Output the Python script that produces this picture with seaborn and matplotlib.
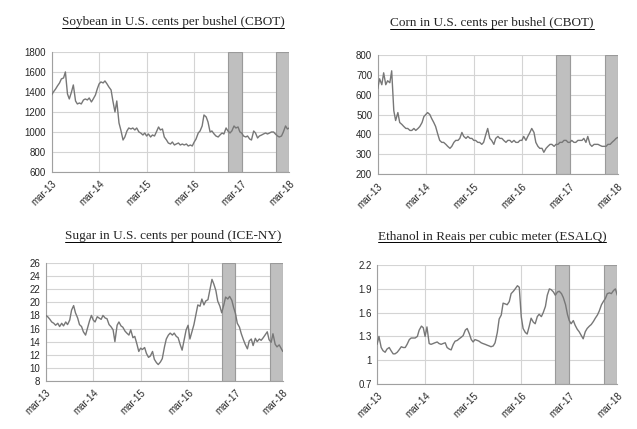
import pandas as pd
import matplotlib.pyplot as plt
from matplotlib.lines import Line2D
import seaborn as sns

# semi-monthly readings, mar-13 .. mar-18 (121 points each)
dates = pd.date_range("2013-03-01", "2018-03-01", freq="SMS")

soybean = [1370, 1400, 1430, 1460, 1490, 1530, 1540, 1600, 1380, 1330,
           1400, 1470, 1310, 1280, 1290, 1280, 1320, 1330, 1320, 1340,
           1300, 1330, 1370, 1430, 1480, 1500, 1490, 1510, 1480, 1450,
           1420, 1310, 1200, 1310, 1090, 1020, 920, 950, 1010, 1040,
           1030, 1040, 1020, 1040, 1000, 990, 970, 990, 960, 980,
           950, 970, 960, 1000, 1050, 1020, 1030, 950, 920, 890,
           880, 900, 870, 880, 890, 870, 880, 870, 880, 860,
           870, 860, 900, 930, 990, 1010, 1060, 1170, 1150, 1100,
           1000, 1010, 980, 960, 950, 970, 990, 980, 1040, 1010,
           990, 1010, 1060, 1040, 1050, 1000, 990, 960, 950, 960,
           930, 920, 1010, 990, 940, 960, 970, 980, 990, 980,
           990, 1000, 1000, 980, 960, 950, 960, 1000, 1060, 1030,
           1040]

corn = [630, 680, 650, 710, 650, 670, 660, 720, 520, 470,
        510, 460, 450, 440, 430, 430, 420, 420, 430, 420,
        430, 440, 460, 490, 500, 510, 500, 480, 460, 440,
        400, 370, 360, 360, 350, 340, 330, 340, 360, 370,
        370, 380, 410, 390, 380, 390, 380, 380, 370, 370,
        360, 360, 350, 360, 400, 430, 380, 370, 350, 380,
        390, 380, 380, 370, 360, 370, 370, 360, 370, 360,
        360, 370, 370, 390, 370, 390, 410, 430, 410, 360,
        340, 330, 330, 310, 330, 340, 350, 350, 340, 350,
        350, 360, 360, 370, 370, 360, 360, 370, 360, 360,
        370, 370, 370, 380, 360, 390, 350, 340, 350, 350,
        350, 345, 340, 340, 340, 350, 350, 360, 370, 380,
        385]

sugar = [18.0, 17.8, 17.4, 17.0, 16.8, 16.5, 16.8, 16.3, 16.8, 16.4,
         17.0, 16.6, 17.3, 18.8, 19.5, 18.4, 17.6, 16.6, 16.3, 15.5,
         15.0, 16.0, 17.2, 18.0, 17.3, 17.0, 17.8, 17.6, 17.4, 18.0,
         17.6, 17.5, 16.6, 16.3, 15.8, 14.0, 16.5, 17.0, 16.4, 16.2,
         15.6, 15.3, 15.0, 15.8, 14.6, 14.8, 13.6, 12.5, 13.0, 12.8,
         13.1, 12.2, 11.6, 11.8, 12.5, 11.3, 10.8, 10.5, 10.9, 11.4,
         13.2, 14.4, 15.0, 15.3, 15.0, 15.3, 14.8, 14.6, 13.5, 12.7,
         14.4, 15.8, 16.5, 14.4, 15.6, 16.6, 18.2, 19.6, 19.4, 20.5,
         19.6, 20.2, 20.4, 21.8, 23.5, 22.8, 21.8, 20.2, 19.4, 18.4,
         19.6, 20.8, 20.5, 20.9, 20.3, 19.2, 18.3, 16.8, 16.2, 15.2,
         14.3, 13.6, 12.9, 14.1, 14.4, 13.4, 14.5, 14.0, 14.4, 14.2,
         14.6, 15.0, 15.5, 14.3, 13.9, 15.2, 13.6, 13.2, 13.5, 13.0,
         12.5]

ethanol = [1.20, 1.30, 1.16, 1.12, 1.10, 1.14, 1.16, 1.12, 1.08, 1.08,
           1.10, 1.13, 1.17, 1.16, 1.16, 1.20, 1.26, 1.28, 1.28, 1.28,
           1.30, 1.38, 1.43, 1.41, 1.30, 1.42, 1.21, 1.20, 1.21, 1.22,
           1.23, 1.21, 1.20, 1.21, 1.22, 1.16, 1.14, 1.13, 1.20, 1.24,
           1.25, 1.27, 1.29, 1.31, 1.38, 1.40, 1.33, 1.26, 1.23, 1.26,
           1.25, 1.24, 1.22, 1.21, 1.20, 1.19, 1.18, 1.17, 1.18, 1.22,
           1.35, 1.52, 1.57, 1.72, 1.71, 1.70, 1.74, 1.84, 1.87, 1.90,
           1.94, 1.92, 1.55, 1.40, 1.35, 1.33, 1.43, 1.53, 1.48, 1.46,
           1.55, 1.58, 1.55, 1.60, 1.68, 1.82, 1.90, 1.89, 1.86, 1.82,
           1.86, 1.87, 1.84, 1.79, 1.70, 1.58, 1.50, 1.46, 1.50, 1.44,
           1.39, 1.36, 1.31, 1.27, 1.36, 1.40, 1.43, 1.45, 1.49, 1.53,
           1.57, 1.62, 1.70, 1.74, 1.78, 1.84, 1.85, 1.84, 1.88, 1.90,
           1.82]

titles = ["Soybean in U.S. cents per bushel (CBOT)",
          "Corn in U.S. cents per bushel (CBOT)",
          "Sugar in U.S. cents per pound (ICE-NY)",
          "Ethanol in Reais per cubic meter (ESALQ)"]
yticks = [[600, 800, 1000, 1200, 1400, 1600, 1800],
          [200, 300, 400, 500, 600, 700, 800],
          [8, 10, 12, 14, 16, 18, 20, 22, 24, 26],
          [0.7, 1, 1.3, 1.6, 1.9, 2.2]]
ytick_labels = [None, None, None, ["0.7", "1", "1.3", "1.6", "1.9", "2.2"]]
xtick_dates = pd.to_datetime(["2013-03-01", "2014-03-01", "2015-03-01",
                              "2016-03-01", "2017-03-01", "2018-03-01"])
xtick_labels = ["mar-13", "mar-14", "mar-15", "mar-16", "mar-17", "mar-18"]
bands = [("2016-11-15", "2017-03-01"), ("2017-11-20", "2018-03-01")]

sns.set_style("white")
plt.rcParams["font.family"] = ["Liberation Sans", "DejaVu Sans"]

fig = plt.figure(figsize=(6.37, 4.29), dpi=100)
positions = [[0.081, 0.599, 0.373, 0.280],
             [0.593, 0.594, 0.377, 0.278],
             [0.072, 0.112, 0.372, 0.275],
             [0.592, 0.105, 0.377, 0.277]]
title_xy = [(173, 22), (492, 23), (173, 236), (492, 237)]
series = [soybean, corn, sugar, ethanol]

titles_txt = []
for k in range(4):
    ax = fig.add_axes(positions[k])
    df = pd.DataFrame({"date": dates, "value": series[k]})
    for b0, b1 in bands:
        ax.axvspan(pd.Timestamp(b0), pd.Timestamp(b1), facecolor="#bfbfbf",
                   edgecolor="#9a9a9a", lw=0.8, zorder=1)
    sns.lineplot(data=df, x="date", y="value", ax=ax, color="#777777",
                 lw=1.0, zorder=3)
    ax.set_xlim(xtick_dates[0], xtick_dates[-1])
    ax.set_ylim(yticks[k][0], yticks[k][-1])
    ax.set_yticks(yticks[k])
    if ytick_labels[k]:
        ax.set_yticklabels(ytick_labels[k])
    ax.set_xticks(xtick_dates)
    ax.set_xticklabels(xtick_labels, rotation=45, ha="right",
                       rotation_mode="anchor")
    ax.set_xlabel("")
    ax.set_ylabel("")
    ax.grid(True, color="#d4d4d4", lw=0.8, zorder=0)
    ax.set_axisbelow(True)
    for s in ["top", "right"]:
        ax.spines[s].set_visible(False)
    for s in ["left", "bottom"]:
        ax.spines[s].set_color("#a0a0a0")
        ax.spines[s].set_linewidth(0.8)
    ax.tick_params(axis="x", length=3, color="#a0a0a0", labelsize=7, pad=2)
    ax.tick_params(axis="y", length=0, labelsize=7, pad=4)
    tx, ty = title_xy[k]
    t = fig.text(tx / 637, 1 - ty / 429, titles[k], ha="center", va="center",
                 family="Liberation Serif", fontsize=9.5)
    titles_txt.append(t)

# underline the titles
fig.canvas.draw()
renderer = fig.canvas.get_renderer()
for t in titles_txt:
    bb = t.get_window_extent(renderer).transformed(fig.transFigure.inverted())
    y = bb.y0 + 0.5 / 429
    fig.add_artist(Line2D([bb.x0, bb.x1], [y, y], transform=fig.transFigure,
                          color="black", lw=0.7))

fig.savefig("out.png", dpi=100)
